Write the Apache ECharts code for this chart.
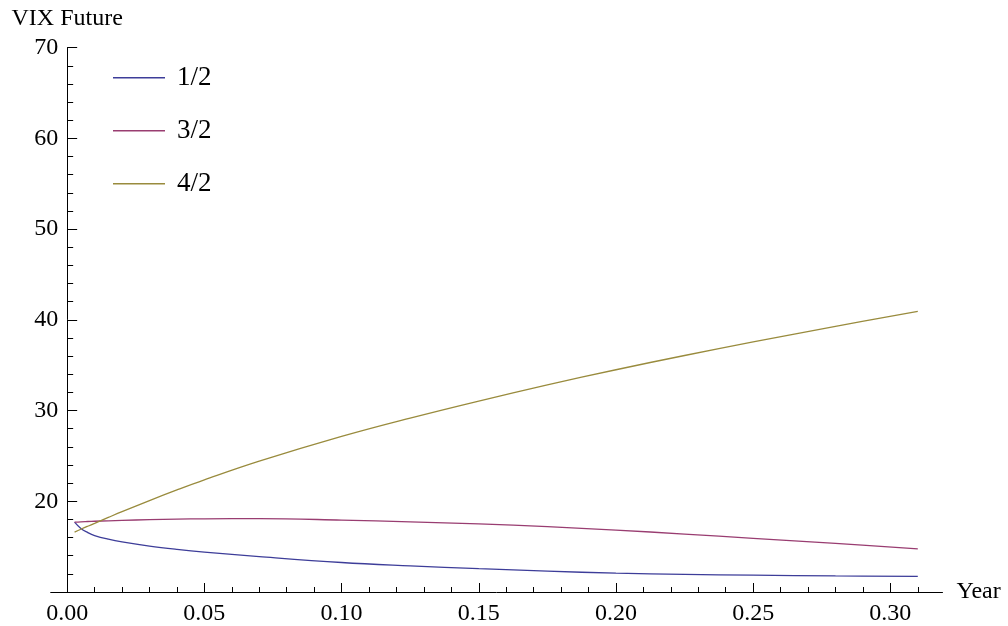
<!DOCTYPE html>
<html>
<head>
<meta charset="utf-8">
<script src="https://cdn.jsdelivr.net/npm/echarts@6/dist/echarts.min.js"></script>
<style>
html,body{margin:0;padding:0;background:#fff;}
#chart{width:1008px;height:626px;}
</style>
</head>
<body>
<div id="chart"></div>
<script>
// ---- data ----
const seriesNames = ['1/2', '3/2', '4/2'];
const years = [0.0027, 0.005, 0.0075, 0.01, 0.015, 0.02, 0.03, 0.04, 0.05, 0.07, 0.10, 0.125, 0.15, 0.175, 0.20, 0.225, 0.25, 0.28, 0.31];
const vix12 = [17.70, 17.00, 16.55, 16.22, 15.82, 15.52, 15.06, 14.70, 14.40, 13.90, 13.25, 12.88, 12.57, 12.30, 12.08, 11.95, 11.85, 11.77, 11.72];
const vix32 = [17.70, 17.74, 17.77, 17.80, 17.85, 17.90, 17.97, 18.03, 18.07, 18.09, 17.93, 17.73, 17.50, 17.20, 16.82, 16.39, 15.92, 15.35, 14.76];
const vix42 = [16.60, 16.92, 17.25, 17.57, 18.22, 18.86, 20.08, 21.25, 22.36, 24.42, 27.15, 29.17, 31.05, 32.82, 34.50, 36.07, 37.57, 39.28, 40.93];
const xMajorTicks = [0, 0.05, 0.10, 0.15, 0.20, 0.25, 0.30];
const xMinorTicks = [0.01, 0.02, 0.03, 0.04, 0.06, 0.07, 0.08, 0.09, 0.11, 0.12, 0.13, 0.14,
                     0.16, 0.17, 0.18, 0.19, 0.21, 0.22, 0.23, 0.24, 0.26, 0.27, 0.28, 0.29, 0.31];
const yTickLabels = [20, 30, 40, 50, 60, 70];
const colors = ['#3d3d99', '#993d71', '#998b3d'];

function pairs(xs, ys) { return xs.map((x, i) => [x, ys[i]]); }

const FONT = 'Liberation Serif';
const chart = echarts.init(document.getElementById('chart'));

const xCommon = {
  type: 'value', min: -0.006, max: 0.319, position: 'bottom',
  splitLine: { show: false },
  axisLine: { show: true, lineStyle: { color: '#000', width: 1 } }
};

chart.setOption({
  animation: false,
  backgroundColor: '#fff',
  color: colors,
  grid: { left: 50.7, right: 65.5, top: 47.7, bottom: 31.6, containLabel: false },
  legend: {
    orient: 'vertical', left: 108, top: 56.7, itemWidth: 52, itemHeight: 1.4, itemGap: 21,
    icon: 'rect',
    data: seriesNames,
    textStyle: { fontFamily: FONT, fontSize: 27, color: '#000', lineHeight: 26, padding: [6, 0, 0, 7] }
  },
  xAxis: [
    Object.assign({}, xCommon, {
      name: 'Year', nameLocation: 'end', nameGap: 14,
      nameTextStyle: { fontFamily: FONT, fontSize: 24, color: '#000', align: 'left', verticalAlign: 'middle', padding: [14, 0, 0, 0] },
      axisTick: { show: true, inside: true, length: 9, customValues: xMajorTicks, lineStyle: { color: '#000' } },
      axisLabel: { show: true, margin: 10, customValues: xMajorTicks, fontFamily: FONT, fontSize: 24, color: '#000',
        formatter: v => v.toFixed(2) }
    }),
    Object.assign({}, xCommon, {
      axisLine: { show: false },
      axisTick: { show: true, inside: true, length: 5, customValues: xMinorTicks, lineStyle: { color: '#000' } },
      axisLabel: { show: false }
    })
  ],
  yAxis: [{
    type: 'value', min: 10, max: 70, interval: 10,
    name: 'VIX Future', nameLocation: 'end', nameGap: 17,
    nameTextStyle: { fontFamily: FONT, fontSize: 24, color: '#000', align: 'center' },
    splitLine: { show: false },
    axisLine: { show: true, onZero: true, lineStyle: { color: '#000', width: 1 } },
    axisTick: { show: true, inside: true, length: 10, lineStyle: { color: '#000' } },
    minorTick: { show: true, splitNumber: 5, length: 6, lineStyle: { color: '#000' } },
    axisLabel: { show: true, margin: -7.6, customValues: yTickLabels, fontFamily: FONT, fontSize: 24, color: '#000' }
  }],
  series: [
    { name: seriesNames[0], type: 'line', data: pairs(years, vix12), showSymbol: false, symbol: 'none',
      smooth: 0.4, lineStyle: { width: 1.3, color: colors[0] } },
    { name: seriesNames[1], type: 'line', data: pairs(years, vix32), showSymbol: false, symbol: 'none',
      smooth: 0.4, lineStyle: { width: 1.3, color: colors[1] } },
    { name: seriesNames[2], type: 'line', data: pairs(years, vix42), showSymbol: false, symbol: 'none',
      smooth: 0.4, lineStyle: { width: 1.3, color: colors[2] } }
  ]
});
</script>
</body>
</html>
